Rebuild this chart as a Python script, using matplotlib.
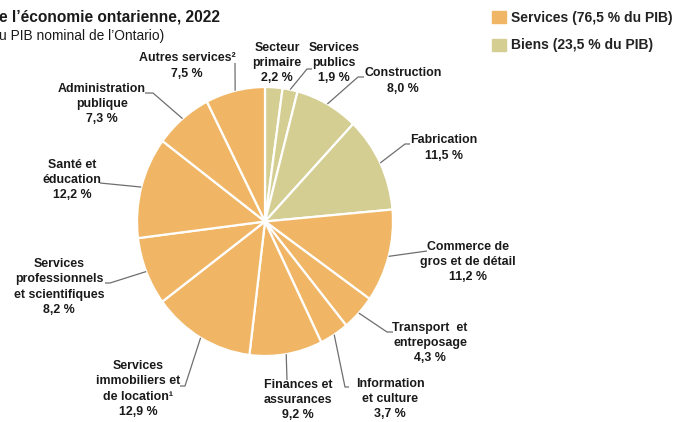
"""Pie chart of Ontario GDP composition by sector, 2022."""
import matplotlib
matplotlib.use("Agg")
import matplotlib.patches as mpatches
import matplotlib.pyplot as plt
import numpy as np

# data, clockwise from 12 o'clock
SECTORS = [
    "Secteur\nprimaire",
    "Services\npublics",
    "Construction",
    "Fabrication",
    "Commerce de\ngros et de détail",
    "Transport  et\nentreposage",
    "Information\net culture",
    "Finances et\nassurances",
    "Services\nimmobiliers et\nde location\u00b9",
    "Services\nprofessionnels\net scientifiques",
    "Santé et\néducation",
    "Administration\npublique",
    "Autres services\u00b2",
]
SHARES = [2.2, 1.9, 8.0, 11.5, 11.2, 4.3, 3.7, 9.2, 12.9, 8.2, 12.2, 7.3, 7.5]
GROUPS = ["B", "B", "B", "B", "S", "S", "S", "S", "S", "S", "S", "S", "S"]
LEGEND_LABELS = {"S": "Services (76,5 % du PIB)", "B": "Biens (23,5 % du PIB)"}

TITLE = "e l\u2019économie ontarienne, 2022"
SUBTITLE = "u PIB nominal de l\u2019Ontario)"

# layout (figure pixels, origin top-left)
LABEL_XY = [
    (277, 63), (334, 63), (403, 81), (444, 148), (468, 262), (430, 343),
    (390, 399), (298, 400), (138, 389), (59, 287), (72, 180), (102, 104),
    (187, 66),
]
LEADERS = [
    [],
    [(307, 69), (312, 69)],
    [(358, 77), (364, 77)],
    [(405, 144), (410, 144)],
    [(427, 251)],
    [(387, 332), (393, 332)],
    [(345, 387), (349, 387)],
    [(287, 380)],
    [(185, 386), (180, 386)],
    [(110, 283), (105, 283)],
    [(100, 183)],
    [(153, 93), (145, 93)],
    [(235, 63)],
]

COLORS = {"S": "#F0B665", "B": "#D4CE92"}
TEXT = "#1a1a1a"
LINE = "#6e6e6e"
W, H = 683, 422

plt.rcParams["font.family"] = ["Liberation Sans", "DejaVu Sans"]

fig = plt.figure(figsize=(W / 100, H / 100), dpi=100)
fig.patch.set_facecolor("white")

# pie drawn in its own axes (slightly taller than wide, as in the source)
pie_left, pie_right, pie_top, pie_bottom = 137, 393, 87, 356
ax = fig.add_axes([pie_left / W, 1 - pie_bottom / H,
                   (pie_right - pie_left) / W, (pie_bottom - pie_top) / H])
wedges, _ = ax.pie(
    SHARES,
    colors=[COLORS[g] for g in GROUPS],
    startangle=90,
    counterclock=False,
    radius=1,
    wedgeprops=dict(edgecolor="white", linewidth=1.6),
)
ax.set_aspect("auto")
ax.set_xlim(-1, 1)
ax.set_ylim(-1, 1)
ax.axis("off")

# overlay in pixel coordinates for labels and leader lines
ov = fig.add_axes([0, 0, 1, 1], facecolor="none")
ov.set_xlim(0, W)
ov.set_ylim(H, 0)
ov.axis("off")
fig.canvas.draw()

for wedge, label, share, (lx, ly), pts in zip(wedges, SECTORS, SHARES, LABEL_XY, LEADERS):
    txt = f"{label}\n{share:.1f} %".replace(".", ",")
    ov.text(lx, ly, txt, ha="center", va="center", fontsize=8.9,
            fontweight="bold", color=TEXT, linespacing=1.36)
    if pts:
        # leader starts at the wedge's mid-angle on the rim
        mid = np.deg2rad((wedge.theta1 + wedge.theta2) / 2)
        disp = ax.transData.transform((np.cos(mid), np.sin(mid)))
        x0, y0 = ov.transData.inverted().transform(disp)
        xs = [x0] + [p[0] for p in pts]
        ys = [y0] + [p[1] for p in pts]
        ov.plot(xs, ys, color=LINE, linewidth=0.9, solid_capstyle="butt")

ov.text(-1, 17, TITLE, ha="left", va="center", fontsize=11.2,
        fontweight="bold", color=TEXT)
ov.text(-1, 36, SUBTITLE, ha="left", va="center", fontsize=9.9, color=TEXT)

handles = [mpatches.Patch(color=COLORS[g], label=LEGEND_LABELS[g]) for g in ("S", "B")]
fig.legend(handles=handles, loc="upper left",
           bbox_to_anchor=(492 / W, 1 - 11 / H), frameon=False,
           handlelength=1.0, handleheight=0.95, handletextpad=0.4,
           labelspacing=0.97, borderpad=0, borderaxespad=0,
           prop=dict(size=10, weight="bold"), labelcolor="#222222")

fig.savefig("out.png", dpi=100, facecolor="white")
